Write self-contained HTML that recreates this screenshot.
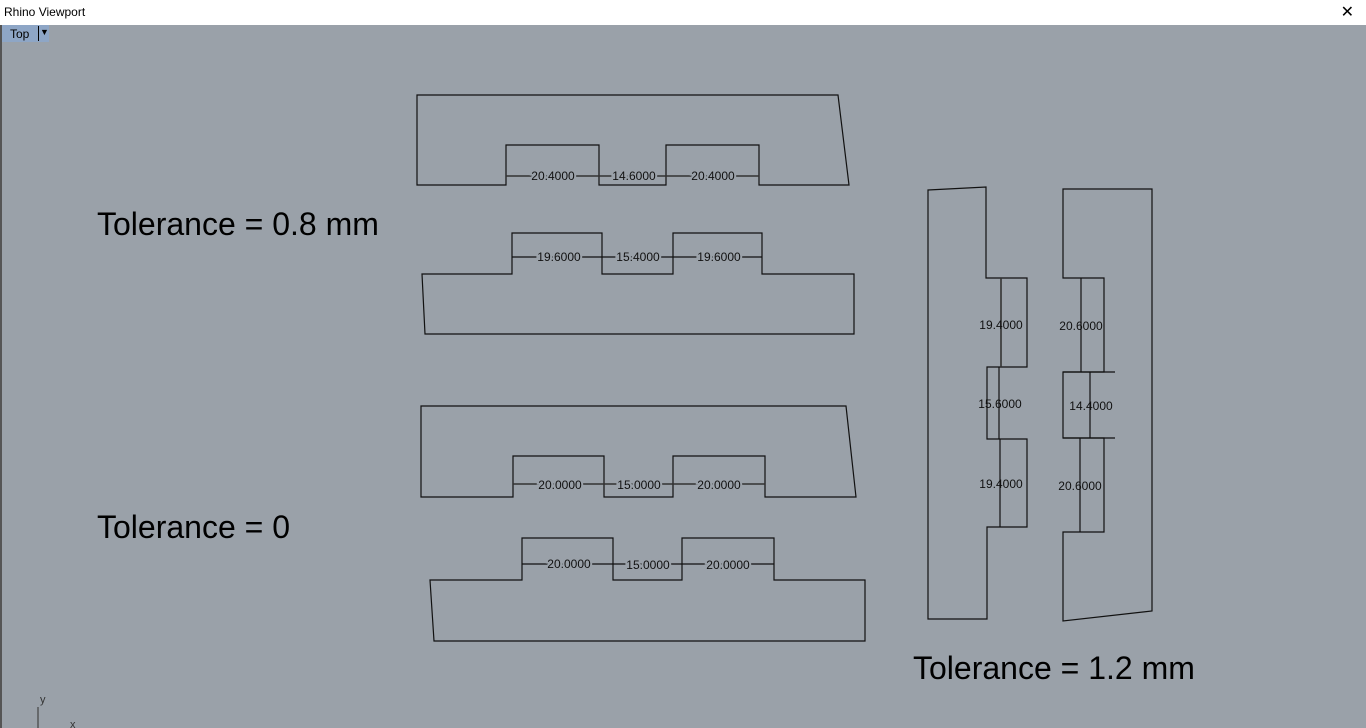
<!DOCTYPE html>
<html><head><style>
html,body{margin:0;padding:0;width:1366px;height:728px;overflow:hidden;background:#9aa1a9;font-family:"Liberation Sans",sans-serif;}
#title{position:absolute;left:0;top:0;width:1366px;height:25px;background:#fff;}
#title span{position:absolute;left:4px;top:5px;font-size:12px;color:#000;}
#close{position:absolute;right:12px;top:2px;font-size:16px;}
#lb{position:absolute;left:0;top:25px;width:2px;height:703px;background:#555;}
#tab{position:absolute;left:2px;top:25px;width:47px;height:17px;background:#8ea6c6;font-size:12px;}
</style></head><body>
<div id="title"><span>Rhino Viewport</span><div id="close">✕</div></div>
<div id="lb"></div>
<div id="tab"><span style="position:absolute;left:8px;top:2px">Top</span><span style="position:absolute;left:36px;top:1px;width:1px;height:15px;background:#000"></span><span style="position:absolute;left:38px;top:2px;font-size:9px">▼</span></div>
<svg width="1366" height="728" style="position:absolute;left:0;top:0" font-family="Liberation Sans, sans-serif">
<g fill="none" stroke="#111" stroke-width="1.2">
<polygon points="417,95 838,95 849,185 759,185 759,145 666,145 666,185 599,185 599,145 506,145 506,185 417,185"/>
<line x1="506" y1="176" x2="759" y2="176" stroke="#333" stroke-width="1.6"/>
<polygon points="422,274 512,274 512,233 602,233 602,274 673,274 673,233 762,233 762,274 854,274 854,334 425,334"/>
<line x1="512" y1="257" x2="762" y2="257"/>
<polygon points="421,406 846,406 856,497 765,497 765,456 673,456 673,497 604,497 604,456 513,456 513,497 421,497"/>
<line x1="513" y1="484" x2="765" y2="484" stroke="#333" stroke-width="1.6"/>
<polygon points="430,580 522,580 522,538 613,538 613,580 682,580 682,538 774,538 774,580 865,580 865,641 434,641"/>
<line x1="522" y1="564" x2="774" y2="564"/>
<polygon points="928,190 986,187 986,278 1027,278 1027,367 987,367 987,439 1027,439 1027,527 987,527 987,619 928,619"/>
<line x1="1001" y1="278" x2="1001" y2="367" stroke="#333" stroke-width="1.6"/>
<line x1="999" y1="367" x2="999" y2="439"/>
<line x1="1000" y1="439" x2="1000" y2="527"/>
<polygon points="1063,189 1152,189 1152,611 1063,621 1063,532 1104,532 1104,438 1063,438 1063,372 1104,372 1104,278 1063,278"/>
<line x1="1063" y1="372" x2="1115" y2="372"/>
<line x1="1063" y1="438" x2="1115" y2="438"/>
<line x1="1081" y1="278" x2="1081" y2="372"/>
<line x1="1090" y1="372" x2="1090" y2="438"/>
<line x1="1080" y1="438" x2="1080" y2="532"/>
<line x1="38" y1="707" x2="38" y2="728" stroke="#444"/>
</g>
<g font-size="12" fill="#111" text-anchor="middle">
<g style="paint-order:stroke" stroke="#9aa1a9" stroke-width="4">
<text x="553" y="180">20.4000</text><text x="634" y="180">14.6000</text><text x="713" y="180">20.4000</text>
<text x="559" y="261">19.6000</text><text x="638" y="261">15.4000</text><text x="719" y="261">19.6000</text>
<text x="560" y="489">20.0000</text><text x="639" y="489">15.0000</text><text x="719" y="489">20.0000</text>
<text x="569" y="568">20.0000</text><text x="648" y="569">15.0000</text><text x="728" y="569">20.0000</text>
</g>
<text x="1001" y="329">19.4000</text><text x="1000" y="408">15.6000</text><text x="1001" y="488">19.4000</text>
<text x="1081" y="330">20.6000</text><text x="1091" y="410">14.4000</text><text x="1080" y="490">20.6000</text>
</g>
<g font-size="32" fill="#000">
<text x="97" y="235">Tolerance = 0.8 mm</text>
<text x="97" y="538">Tolerance = 0</text>
<text x="913" y="679">Tolerance = 1.2 mm</text>
</g>
<text x="40" y="703" font-size="11" fill="#333">y</text>
<text x="70" y="728" font-size="11" fill="#333">x</text>
</svg>
</body></html>
